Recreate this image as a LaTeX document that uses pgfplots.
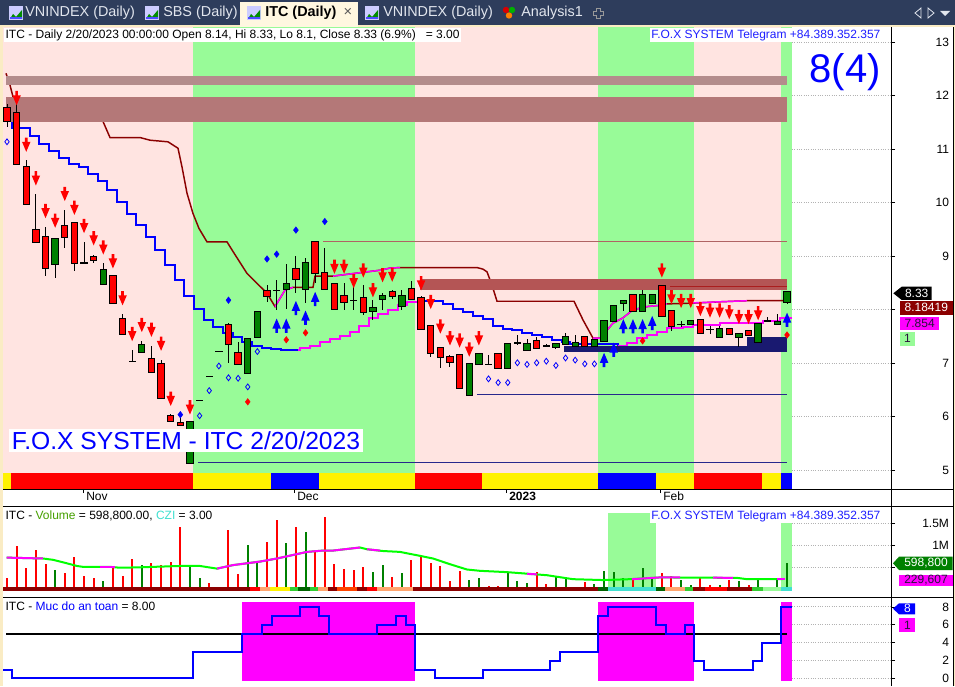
\documentclass[border=0pt]{standalone}
\usepackage{pgfplots}
\pgfplotsset{compat=1.18}
\usepackage{pgfplotstable}
\usepackage{fontspec}
\setmainfont{Liberation Sans}

\definecolor{pinkbg}{RGB}{255,228,225}
\definecolor{greenbg}{RGB}{152,251,152}
\definecolor{bandA}{RGB}{180,140,140}
\definecolor{bandB}{RGB}{180,120,120}
\definecolor{bandC}{RGB}{180,85,85}
\definecolor{navyb}{RGB}{25,25,112}
\definecolor{navyl}{RGB}{40,40,140}
\definecolor{dred}{RGB}{139,0,0}
\definecolor{mag}{RGB}{255,0,255}
\definecolor{cgreen}{RGB}{0,128,0}
\definecolor{cred}{RGB}{255,0,0}
\definecolor{tabbg}{RGB}{46,61,92}
\definecolor{cream}{RGB}{250,236,196}
\definecolor{activetab}{RGB}{255,247,224}
\definecolor{telblue}{RGB}{30,30,255}
\definecolor{lorange}{RGB}{255,165,110}
\definecolor{turq}{RGB}{64,224,208}
\definecolor{lgreen}{RGB}{50,205,50}
\definecolor{dgreen}{RGB}{0,100,0}
\definecolor{ored}{RGB}{255,69,0}
\definecolor{thinbr}{RGB}{176,100,100}
\definecolor{thinrd}{RGB}{170,30,30}
\definecolor{volgreen}{RGB}{0,255,0}
\definecolor{voltitle}{RGB}{70,160,0}
\definecolor{tabtext}{RGB}{226,230,238}
\definecolor{darktxt}{RGB}{40,20,60}

\newcommand\fsA{\fontsize{9}{10.5}\selectfont}

\pgfdeclareplotmark{dnarrow}{%
  \pgfpathmoveto{\pgfqpoint{-1pt}{0pt}}%
  \pgfpathlineto{\pgfqpoint{1pt}{0pt}}%
  \pgfpathlineto{\pgfqpoint{1pt}{-3.2pt}}%
  \pgfpathlineto{\pgfqpoint{3.2pt}{-3.2pt}}%
  \pgfpathlineto{\pgfqpoint{0pt}{-10.7pt}}%
  \pgfpathlineto{\pgfqpoint{-3.2pt}{-3.2pt}}%
  \pgfpathlineto{\pgfqpoint{-1pt}{-3.2pt}}%
  \pgfpathclose
  \pgfusepathqfill}
\pgfdeclareplotmark{uparrow}{%
  \pgfpathmoveto{\pgfqpoint{-1pt}{0pt}}%
  \pgfpathlineto{\pgfqpoint{1pt}{0pt}}%
  \pgfpathlineto{\pgfqpoint{1pt}{3.2pt}}%
  \pgfpathlineto{\pgfqpoint{3.2pt}{3.2pt}}%
  \pgfpathlineto{\pgfqpoint{0pt}{10.7pt}}%
  \pgfpathlineto{\pgfqpoint{-3.2pt}{3.2pt}}%
  \pgfpathlineto{\pgfqpoint{-1pt}{3.2pt}}%
  \pgfpathclose
  \pgfusepathqfill}

% candles: i open high low close type(0 red,1 green,2 doji)
\pgfplotstableread{
i o h l c t
0 11.77 11.85 11.42 11.52 0
1 11.67 12.09 10.70 10.72 0
2 10.66 10.80 9.97 9.97 0
3 9.49 10.16 9.27 9.27 0
4 9.37 9.55 8.63 8.78 0
5 8.86 9.33 8.59 9.32 1
6 9.57 9.87 9.15 9.37 0
7 9.62 9.62 8.73 8.87 0
8 8.88 9.27 8.88 8.88 2
9 8.98 9.03 8.88 8.94 0
10 8.48 8.87 8.48 8.74 1
11 8.63 8.63 8.13 8.13 0
12 7.82 7.92 7.55 7.55 0
13 7.04 7.25 7.04 7.04 2
14 7.22 7.42 7.20 7.35 1
15 7.08 7.32 6.84 6.84 0
16 6.98 7.06 6.36 6.36 0
17 6.01 6.05 5.93 5.93 0
18 5.89 6.00 5.85 5.85 0
19 5.14 5.92 5.14 5.90 1
20 6.31 6.31 6.31 6.31 2
21 6.76 6.76 6.76 6.76 2
22 7.23 7.23 7.23 7.23 2
23 7.72 7.75 7.01 7.37 0
24 7.19 7.40 6.98 6.98 0
25 6.82 7.45 6.82 7.45 1
26 7.49 7.96 7.49 7.96 1
27 8.36 8.46 8.15 8.26 0
28 8.37 8.56 8.00 8.37 2
29 8.38 8.85 8.01 8.48 1
30 8.76 9.00 8.31 8.57 0
31 8.38 8.96 8.13 8.87 1
32 9.27 9.29 8.50 8.68 0
33 8.68 9.15 8.38 8.38 0
34 8.48 8.50 8.01 8.01 0
35 8.26 8.50 8.00 8.15 0
36 8.18 8.43 8.00 8.18 2
37 8.23 8.46 7.90 7.96 0
38 7.98 8.18 7.81 8.04 1
39 8.20 8.31 8.00 8.26 1
40 8.33 8.37 8.20 8.26 0
41 8.08 8.37 8.00 8.26 1
42 8.38 8.54 8.21 8.21 0
43 8.23 8.25 7.64 7.64 0
44 7.70 7.70 7.12 7.19 0
45 7.28 7.28 6.91 7.11 0
46 7.11 7.15 6.94 7.03 0
47 7.15 7.15 6.53 6.53 0
48 6.41 6.98 6.41 6.98 1
49 6.98 7.17 6.98 7.17 1
50 6.98 7.15 6.98 6.98 2
51 7.17 7.17 6.91 6.91 0
52 6.91 7.37 6.91 7.37 1
53 7.38 7.52 7.34 7.38 2
54 7.25 7.45 7.25 7.37 1
55 7.42 7.49 7.28 7.28 0
56 7.33 7.36 7.30 7.33 2
57 7.31 7.36 7.26 7.36 1
58 7.37 7.57 7.37 7.49 1
59 7.33 7.52 7.33 7.38 1
60 7.49 7.49 7.30 7.33 0
61 7.33 7.44 7.30 7.44 1
62 7.42 7.79 7.42 7.79 1
63 7.80 8.08 7.80 8.08 1
64 8.12 8.16 7.98 8.16 1
65 8.28 8.28 7.98 7.98 0
66 7.98 8.37 7.98 8.28 1
67 8.12 8.28 8.12 8.28 1
68 8.44 8.44 7.88 7.88 0
69 7.98 7.98 7.60 7.70 0
70 7.73 7.80 7.68 7.73 2
71 7.73 7.80 7.73 7.79 1
72 7.81 7.81 7.56 7.56 0
73 7.64 7.69 7.55 7.64 2
74 7.50 7.69 7.50 7.64 1
75 7.64 7.64 7.55 7.55 0
76 7.49 7.54 7.30 7.54 1
77 7.60 7.60 7.52 7.52 0
78 7.39 7.73 7.39 7.73 1
79 7.80 7.87 7.78 7.80 2
80 7.73 7.92 7.73 7.77 1
81 8.14 8.33 8.10 8.33 1
}\candles

\pgfplotstableread{
i p
1 12.09
2 11.22
3 10.59
4 9.98
5 9.80
6 10.30
7 10.04
8 9.70
9 9.47
10 9.30
11 9.04
12 8.35
13 7.68
14 7.85
15 7.76
16 7.50
17 6.47
19 6.31
34 8.94
35 8.94
36 8.67
37 8.87
38 8.50
39 8.78
40 8.79
43 8.63
44 8.28
45 7.82
46 7.60
47 7.56
48 7.39
49 7.60
68 8.87
69 8.37
70 8.30
71 8.30
72 8.15
73 8.12
74 8.12
75 8.09
76 8.00
77 8.00
78 8.07
}\redarrows

\pgfplotstableread{
i p
28 7.57
29 7.57
30 7.90
31 7.72
32 8.07
62 6.93
63 7.12
64 7.56
65 7.56
66 7.56
67 7.62
81 7.68
}\bluearrows

\pgfplotstableread{
i p
18 6.04
23 8.18
27 8.95
28 9.04
30 9.49
33 9.65
}\bluedia

\pgfplotstableread{
i p
25 6.28
29 7.44
31 7.57
66 7.42
81 7.53
}\reddia

\pgfplotstableread{
i p
0 11.14
20 6.02
21 6.49
22 6.95
23 6.73
24 6.72
25 6.56
26 7.22
50 6.71
51 6.64
52 6.64
53 7.01
54 6.98
55 7.01
56 7.04
57 6.96
58 7.10
59 7.06
60 6.99
61 6.99
}\hollowdia

% volume (millions), t: 0 red, 1 green
\pgfplotstableread{
i v t
0 0.25 0
1 0.98 0
2 0.48 0
3 0.89 0
4 0.57 0
5 0.44 1
6 0.36 0
7 0.73 0
8 0.30 0
9 0.25 0
10 0.19 1
11 0.51 0
12 0.30 0
13 0.68 0
14 0.55 1
15 0.60 0
16 0.55 0
17 0.63 0
18 1.42 0
19 0.51 1
20 0.25 1
21 0.14 0
22 0.03 0
23 1.35 0
24 0.35 0
25 1.00 1
26 0.59 1
27 1.08 0
28 1.58 0
29 1.06 1
30 1.42 0
31 1.31 1
32 0.87 0
33 1.65 0
34 0.57 0
35 0.46 0
36 0.44 0
37 0.51 0
38 0.40 1
39 0.55 1
40 0.27 0
41 0.36 1
42 0.67 0
43 0.76 0
44 0.60 0
45 0.53 0
46 0.20 0
47 0.42 0
48 0.21 1
49 0.25 1
50 0.08 0
51 0.08 0
52 0.40 1
53 0.20 1
54 0.14 1
55 0.40 0
56 0.12 0
57 0.27 1
58 0.27 1
59 0.05 1
60 0.17 0
61 0.12 1
62 0.42 1
63 0.40 1
64 0.25 1
65 0.25 0
66 0.48 1
67 0.27 1
68 0.38 0
69 0.30 0
70 0.21 1
71 0.10 1
72 0.25 0
73 0.10 0
74 0.10 1
75 0.22 0
76 0.20 1
77 0.10 0
78 0.22 1
79 0.05 1
80 0.21 1
81 0.5988 1
}\vol

\pgfplotstableread{
x v
6.7 0.72
43 0.70
53 0.67
67 0.59
77 0.53
83 0.51
110 0.51
120 0.49
140 0.50
180 0.53
200 0.53
217 0.47
233 0.55
260 0.63
277 0.70
293 0.78
307 0.85
323 0.88
333 0.88
360 0.95
367 0.91
383 0.87
400 0.85
420 0.76
433 0.70
450 0.57
467 0.45
480 0.42
507 0.39
530 0.35
547 0.32
573 0.23
603 0.21
630 0.23
660 0.27
737 0.26
747 0.23
783 0.23
}\volma

\newcommand{\rect}[5]{\addplot[fill=#1,draw=none] coordinates {(#2,#4) (#3,#4) (#3,#5) (#2,#5)};}
\newcommand{\hl}[4]{\addplot[#1,line width=0.75pt] coordinates {(#2,#4) (#3,#4)};}

\pgfplotsset{
  panel/.style={scale only axis, width=666pt, xmin=3, xmax=891, clip=true,
    anchor=south west, axis line style={draw=none},
    ytick pos=right, yticklabel pos=right, tick align=outside,
    major tick length=3pt, tick style={black, line width=0.6pt},
    yticklabel style={anchor=east, xshift=44pt, font=\fsA},
    xtick=\empty, /pgf/number format/assume math mode=true},
  candle/.style={draw=none, mark=none},
}

\begin{document}
\begin{tikzpicture}[x=0.75pt,y=0.75pt]
\useasboundingbox (0,0) rectangle (955,686);
\fill[white] (0,0) rectangle (955,686);

% ================= PRICE PANEL =================
\begin{axis}[panel, at={(2.25pt,147.75pt)}, height=346.5pt,
  ymin=4.651, ymax=13.286, ytick={5,6,...,13}, yticklabels={5,6,7,,9,10,11,12,13},
  xtick={83.4,294.8,506,660.8}, xticklabels={\relax,\relax,\relax,\relax}, xtick pos=bottom]
% backgrounds
\rect{pinkbg}{3}{193}{4.6}{13.4}
\rect{greenbg}{193}{415}{4.6}{13.4}
\rect{pinkbg}{415}{598}{4.6}{13.4}
\rect{greenbg}{598}{694}{4.6}{13.4}
\rect{pinkbg}{694}{781}{4.6}{13.4}
\rect{greenbg}{781}{792}{4.6}{13.4}
% grid on the blank side
\foreach \g in {5,6,...,13}{\addplot[densely dotted, gray!60, line width=0.75pt] coordinates {(792,\g) (891,\g)};}
% fast trailing line (blue / magenta)
\addplot[const plot, blue, line width=1.5pt] coordinates {(3,11.75) (12,11.40) (30,11.24) (39,11.10) (49,10.97) (59,10.84) (69,10.73) (79,10.66) (88,10.53) (98,10.41) (107,10.24) (117,10.02) (127,9.80) (136,9.59) (146,9.37) (155,9.12) (165,8.84) (175,8.56) (184,8.26) (194,8.01) (204,7.81) (213,7.67) (223,7.56) (233,7.49) (242,7.40) (252,7.32) (262,7.29) (271,7.27) (281,7.24) (298,7.24)};
\addplot[const plot, mag, line width=1.5pt] coordinates {(298,7.24) (300,7.28) (310,7.33) (320,7.40) (330,7.45) (340,7.51) (350,7.59) (359,7.70) (369,7.85) (378,7.92) (388,8.00) (398,8.09) (407,8.15) (417,8.15)};
\addplot[const plot, blue, line width=1.5pt] coordinates {(417,8.16) (443,8.11) (453,8.01) (463,7.95) (473,7.89) (483,7.82) (493,7.70) (503,7.65) (512,7.62) (522,7.57) (532,7.53) (542,7.49) (552,7.44) (562,7.40) (570,7.36) (618,7.33)};
\addplot[const plot, mag, line width=1.5pt] coordinates {(618,7.33) (627,7.38) (637,7.47) (647,7.53) (657,7.59) (667,7.66) (683,7.68) (693,7.72) (720,7.75) (763,7.80) (780,7.84) (792,7.84)};
% slow trailing line (dark red / magenta)
\addplot[dred, line width=1.1pt] coordinates {(6,12.42) (10,12.20) (13,11.98) (100,11.70) (103,11.52) (110,11.22) (140,11.22) (150,11.17) (168,11.14) (178,11.02) (182,10.67) (187,10.18) (193,9.80) (199,9.52) (207,9.27) (227,9.27) (233,9.09) (247,8.68) (267,8.31) (275,8.06) (285,8.37) (293,8.42) (313,8.42) (315,8.63) (333,8.63) (350,8.67) (367,8.71) (380,8.74) (390,8.78) (400,8.79) (477,8.79) (483,8.76) (487,8.71) (492,8.46) (497,8.16) (574,8.16) (583,7.81) (593,7.47) (600,7.47) (607,7.62) (613,7.75) (623,7.85) (633,8.00) (647,8.06) (663,8.09) (667,8.11) (700,8.13) (720,8.15) (747,8.17) (787,8.17)};
\addplot[mag, line width=1.1pt] coordinates {(275,8.06) (285,8.37) (293,8.42)};
\addplot[mag, line width=1.1pt] coordinates {(333,8.63) (350,8.67) (367,8.71) (380,8.74) (390,8.78) (400,8.79)};
\addplot[mag, line width=1.1pt] coordinates {(593,7.47) (600,7.47) (607,7.62) (613,7.75) (623,7.85) (633,8.00) (647,8.06) (663,8.09) (667,8.11)};
\addplot[mag, line width=1.1pt] coordinates {(693,8.13) (720,8.15) (747,8.17)};
% signal arrows
\addplot[only marks, mark=dnarrow, mark options={cred}] table[x expr=7+9.63*\thisrow{i}, y=p] {\redarrows};
\addplot[only marks, mark=uparrow, mark options={blue}] table[x expr=7+9.63*\thisrow{i}, y=p] {\bluearrows};
% zones
\rect{bandA}{6}{787}{12.20}{12.37}
\rect{bandB}{6}{787}{11.51}{11.98}
\rect{bandC}{420}{787}{8.37}{8.58}
\rect{navyb}{564}{787}{7.22}{7.33}
\rect{navyb}{747}{787}{7.22}{7.50}
% thin reference lines
\hl{thinbr}{323}{787}{9.28}
\hl{thinrd}{670}{787}{8.44}
\hl{navyl}{477}{787}{6.41}
\hl{navyl}{198}{787}{5.15}
% candles: wicks, outlines, bodies
\addplot[candle, error bars/.cd, y dir=both, y explicit, error mark=none,
  error bar style={draw=black, line width=0.75pt, line cap=butt}]
  table[x expr=7+9.63*\thisrow{i}, y expr=(\thisrow{h}+\thisrow{l})/2, y error expr=(\thisrow{h}-\thisrow{l})/2] {\candles};
\addplot[candle, restrict expr to domain={\thisrow{t}}{-0.5:1.5}, error bars/.cd, y dir=both, y explicit, error mark=none,
  error bar style={draw=black, line width=5.5pt, line cap=butt}]
  table[x expr=7+9.63*\thisrow{i}, y expr=(\thisrow{o}+\thisrow{c})/2, y error expr=abs(\thisrow{o}-\thisrow{c})/2+0.0187] {\candles};
\addplot[candle, restrict expr to domain={\thisrow{t}}{1.5:2.5}, error bars/.cd, y dir=both, y explicit, error mark=none,
  error bar style={draw=black, line width=5.5pt, line cap=butt}]
  table[x expr=7+9.63*\thisrow{i}, y expr=(\thisrow{o}+\thisrow{c})/2, y error expr=0.0093] {\candles};
\addplot[candle, restrict expr to domain={\thisrow{t}}{-0.5:0.5}, error bars/.cd, y dir=both, y explicit, error mark=none,
  error bar style={draw=cred, line width=4pt, line cap=butt}]
  table[x expr=7+9.63*\thisrow{i}, y expr=(\thisrow{o}+\thisrow{c})/2, y error expr=abs(\thisrow{o}-\thisrow{c})/2] {\candles};
\addplot[candle, restrict expr to domain={\thisrow{t}}{0.5:1.5}, error bars/.cd, y dir=both, y explicit, error mark=none,
  error bar style={draw=cgreen, line width=4pt, line cap=butt}]
  table[x expr=7+9.63*\thisrow{i}, y expr=(\thisrow{o}+\thisrow{c})/2, y error expr=abs(\thisrow{o}-\thisrow{c})/2] {\candles};
% diamonds
\addplot[only marks, mark=diamond*, mark size=2.4pt, mark options={blue}] table[x expr=7+9.63*\thisrow{i}, y=p] {\bluedia};
\addplot[only marks, mark=diamond*, mark size=2.4pt, mark options={cred}] table[x expr=7+9.63*\thisrow{i}, y=p] {\reddia};
\addplot[only marks, mark=diamond, mark size=2.2pt, mark options={blue, line width=0.6pt}] table[x expr=7+9.63*\thisrow{i}, y=p] {\hollowdia};
% state strip
\rect{yellow}{2}{11}{4.60}{4.955}
\rect{cred}{11}{192.5}{4.60}{4.955}
\rect{yellow}{192.5}{271}{4.60}{4.955}
\rect{blue}{271}{319}{4.60}{4.955}
\rect{yellow}{319}{414.7}{4.60}{4.955}
\rect{cred}{414.7}{481.7}{4.60}{4.955}
\rect{yellow}{481.7}{598}{4.60}{4.955}
\rect{blue}{598}{656}{4.60}{4.955}
\rect{yellow}{656}{693.7}{4.60}{4.955}
\rect{cred}{693.7}{762}{4.60}{4.955}
\rect{yellow}{762}{781}{4.60}{4.955}
\rect{blue}{781}{792}{4.60}{4.955}
\end{axis}

% ================= VOLUME PANEL =================
\begin{axis}[panel, at={(2.25pt,66.75pt)}, height=68.25pt,
  ymin=-0.175, ymax=1.893, ytick={0.5,1,1.5}, yticklabels={,1M,1.5M}]
\rect{greenbg}{608}{656}{-0.02}{1.74}
\rect{greenbg}{781}{792}{-0.02}{1.51}
\foreach \g in {0.5,1,1.5}{\addplot[densely dotted, gray!60, line width=0.75pt] coordinates {(792,\g) (891,\g)};}
\addplot[ycomb, cred, line width=1.5pt, restrict expr to domain={\thisrow{t}}{-0.5:0.5}] table[x expr=7+9.63*\thisrow{i}, y=v] {\vol};
\addplot[ycomb, cgreen, line width=1.5pt, restrict expr to domain={\thisrow{t}}{0.5:1.5}] table[x expr=7+9.63*\thisrow{i}, y=v] {\vol};
\addplot[volgreen, line width=1.5pt] table[x=x, y=v] {\volma};
\addplot[mag, line width=1.5pt] coordinates {(6.7,0.72) (43,0.70)};
\addplot[mag, line width=1.5pt] coordinates {(100,0.51) (115,0.51)};
\addplot[mag, line width=1.5pt] coordinates {(217,0.47) (233,0.55) (260,0.63) (277,0.70) (293,0.78) (307,0.85) (323,0.88) (333,0.88) (360,0.95)};
\addplot[mag, line width=1.5pt] coordinates {(367,0.91) (380,0.88)};
\addplot[mag, line width=1.5pt] coordinates {(527,0.35) (537,0.34)};
\addplot[mag, line width=1.5pt] coordinates {(632,0.23) (660,0.27) (680,0.27)};
\addplot[mag, line width=1.5pt] coordinates {(713,0.265) (733,0.26)};
\addplot[mag, line width=1.5pt] coordinates {(777,0.23) (785,0.23)};
% colour strip
\rect{dred}{2}{250}{-0.032}{0.059}
\rect{cred}{250}{260}{-0.032}{0.059}
\rect{lorange}{260}{270}{-0.032}{0.059}
\rect{yellow}{270}{290}{-0.032}{0.059}
\rect{lgreen}{290}{298}{-0.032}{0.059}
\rect{dgreen}{298}{310}{-0.032}{0.059}
\rect{lgreen}{310}{318}{-0.032}{0.059}
\rect{lorange}{318}{328}{-0.032}{0.059}
\rect{dred}{328}{337}{-0.032}{0.059}
\rect{ored}{337}{357}{-0.032}{0.059}
\rect{dred}{357}{367}{-0.032}{0.059}
\rect{cred}{367}{377}{-0.032}{0.059}
\rect{lorange}{377}{413}{-0.032}{0.059}
\rect{dred}{413}{598}{-0.032}{0.059}
\rect{dgreen}{598}{608}{-0.032}{0.059}
\rect{turq}{608}{656}{-0.032}{0.059}
\rect{dgreen}{656}{665}{-0.032}{0.059}
\rect{lorange}{665}{685}{-0.032}{0.059}
\rect{lgreen}{685}{693}{-0.032}{0.059}
\rect{dred}{693}{705}{-0.032}{0.059}
\rect{cred}{705}{727}{-0.032}{0.059}
\rect{dred}{727}{752}{-0.032}{0.059}
\rect{lgreen}{752}{763}{-0.032}{0.059}
\rect{greenbg}{763}{781}{-0.032}{0.059}
\rect{turq}{781}{792}{-0.032}{0.059}
\end{axis}

% ================= SAFETY PANEL =================
\begin{axis}[panel, at={(2.25pt,0pt)}, height=66.75pt,
  ymin=-0.84, ymax=9.11, ytick={0,2,4,6,8}]
\rect{mag}{242}{415}{-0.25}{8.51}
\rect{mag}{598}{694}{-0.25}{8.51}
\rect{mag}{781}{792}{-0.25}{8.51}
\foreach \g in {0,2,4,6,8}{\addplot[densely dotted, gray!60, line width=0.75pt] coordinates {(792,\g) (891,\g)};}
\addplot[black, line width=1.1pt] coordinates {(6,5) (787,5)};
\addplot[const plot, blue, line width=1.5pt] coordinates {(1.7,1) (11.7,0) (193.3,3) (242,5) (261.7,6) (271.7,7) (300,8) (319.3,7) (329,5) (376.7,6) (396,7) (405.7,6) (415,1) (435,0) (482.7,1) (550,2) (560,3) (598.3,7) (608.3,8) (655.7,6) (665.7,5) (685,6) (694.3,2) (704.3,1) (752.7,2) (762.3,4) (781,8) (791.7,8)};
\end{axis}

% ================= FRAME =================
\fill[cream] (0,0) rectangle (3,661);
\fill[cream] (0,659) rectangle (955,661);
\fill[cream] (953.5,0) rectangle (955,661);
\draw[black, line width=0.75pt] (3,197) -- (953,197);
\draw[black, line width=0.75pt] (3,180) -- (953,180);
\draw[black, line width=0.75pt] (3,89) -- (953,89);
\draw[black, line width=0.75pt] (891.5,0) -- (891.5,659);
\draw[black, line width=0.75pt] (953,0) -- (953,659);

% date labels
\node[anchor=west, inner sep=0pt, font=\fsA] at (86,189.3) {Nov};
\node[anchor=west, inner sep=0pt, font=\fsA] at (297,189.3) {Dec};
\node[anchor=west, inner sep=0pt, font=\fsA\bfseries] at (509,189.3) {2023};
\node[anchor=west, inner sep=0pt, font=\fsA] at (663,189.3) {Feb};

% texts in panels
\node[anchor=north west, fill=white, inner sep=1pt, font=\fsA] at (4,658) {ITC - Daily 2/20/2023 00:00:00 Open 8.14, Hi 8.33, Lo 8.1, Close 8.33 (6.9\%)\ \ \ = 3.00};
\node[anchor=north east, fill=white, inner sep=1pt, font=\fsA, text=telblue] at (882,658) {F.O.X SYSTEM Telegram +84.389.352.357};
\node[text=blue, font=\fontsize{30}{30}\selectfont] at (845,614) {8(4)};
\node[anchor=south west, fill=white, text=blue, inner sep=2pt, font=\fontsize{18.5}{20}\selectfont] at (9,233.3) {F.O.X SYSTEM - ITC 2/20/2023};
\node[anchor=north west, inner sep=1pt, font=\fsA] at (4,177) {ITC - \textcolor{voltitle}{Volume} = 598,800.00, \textcolor{turq}{CZI} = 3.00};
\node[anchor=north east, fill=white, inner sep=1pt, font=\fsA, text=telblue] at (882,177) {F.O.X SYSTEM Telegram +84.389.352.357};
\node[anchor=north west, inner sep=1pt, font=\fsA] at (4,86) {ITC - \textcolor{blue}{Muc do an toan} = 8.00};

% value tags
\fill[black] (893.3,392.7) -- (901.7,399.3) -- (931.7,399.3) -- (931.7,386) -- (901.7,386) -- cycle;
\node[text=white, font=\fsA] at (916.7,392.7) {8.33};
\fill[dred] (900,371) rectangle (952.7,385.3);
\node[text=white, font=\fsA] at (926.3,378.2) {8.18419};
\fill[mag] (900,356) rectangle (939.3,368.7);
\node[text=darktxt, font=\fsA] at (919.7,362.3) {7.854};
\fill[greenbg] (900,340.3) rectangle (915,354.3);
\node[text=darktxt, font=\fsA] at (907.5,347.3) {1};
\fill[cgreen] (893,122.7) -- (899,129.3) -- (952.7,129.3) -- (952.7,116) -- (899,116) -- cycle;
\node[text=white, font=\fsA] at (926,122.7) {598,800};
\fill[mag] (899,100) rectangle (952.7,111.5);
\node[text=darktxt, font=\fsA] at (926,105.7) {229,607};
\fill[blue] (893,77.3) -- (899,82.7) -- (915,82.7) -- (915,71.7) -- (899,71.7) -- cycle;
\node[text=white, font=\fsA] at (907.5,77.3) {8};
\fill[mag] (899,54.3) rectangle (915,67.7);
\node[text=darktxt, font=\fsA] at (907.5,61) {1};

% ================= TAB BAR =================
\fill[tabbg] (0,661) rectangle (955,686);
\fill[activetab] (240,659) rectangle (358,684);
\foreach \ix in {9,145,247,365}{
  \fill[white!80!blue] (\ix,666) rectangle (\ix+14,680);
  \fill[green!55!black] (\ix+1,667) -- (\ix+4,672) -- (\ix+7,669) -- (\ix+13,676) -- (\ix+13,667) -- cycle;
  \fill[blue!70] (\ix+1,667) rectangle (\ix+13,668.5);
}
\node[anchor=west, inner sep=0pt, text=tabtext, font=\fontsize{10.8}{12}\selectfont] at (25,673) {VNINDEX (Daily)};
\node[anchor=west, inner sep=0pt, text=tabtext, font=\fontsize{10.8}{12}\selectfont] at (163,673) {SBS (Daily)};
\node[anchor=west, inner sep=0pt, text=black, font=\fontsize{10.8}{12}\selectfont\bfseries] at (265,673) {ITC (Daily)};
\node[inner sep=0pt, text=gray!70!black, font=\fontsize{11}{12}\selectfont] at (348,674) {×};
\node[anchor=west, inner sep=0pt, text=tabtext, font=\fontsize{10.8}{12}\selectfont] at (383,673) {VNINDEX (Daily)};
\fill[red!85!black] (506,676) circle (3.2);
\fill[green!70!black] (512,676) circle (3.2);
\fill[orange] (509,670.5) circle (3.2);
\node[anchor=west, inner sep=0pt, text=tabtext, font=\fontsize{10.8}{12}\selectfont] at (521,673) {Analysis1};
\draw[gray!80, line width=0.7pt] (596,668) -- (600,668) -- (600,671) -- (603,671) -- (603,675) -- (600,675) -- (600,678) -- (596,678) -- (596,675) -- (593,675) -- (593,671) -- (596,671) -- cycle;
\draw[tabtext, line width=0.6pt] (921,678) -- (915,673) -- (921,668) -- cycle;
\draw[tabtext, line width=0.6pt] (928,678) -- (934,673) -- (928,668) -- cycle;
\fill[tabtext] (940,675) -- (950,675) -- (945,670) -- cycle;
\end{tikzpicture}
\end{document}
